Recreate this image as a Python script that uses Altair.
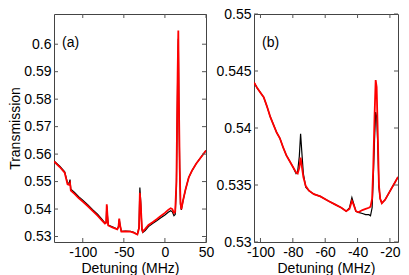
import altair as alt
import pandas as pd

# ---------------- Panel (a) ----------------
a_x = [-135, -128, -122, -118.5, -116.5, -115.5, -114.5, -110, -105, -100, -94, -88, -82, -77,
       -73, -71.5, -70.8, -70, -69, -64, -58, -56.5, -55.6, -54.5, -53, -48, -42, -38, -35,
       -33.5, -31.5, -30.5, -29.5, -28, -27, -24, -20, -15, -10, -5, 0, 4, 7, 9, 11, 12.5,
       14, 15.5, 16.3, 17, 18, 19, 20, 22, 25, 29, 33, 38, 43, 50]
a_red = [0.5573, 0.5553, 0.5532, 0.5490, 0.5488, 0.5494, 0.5467, 0.5455, 0.5440, 0.5427,
         0.5411, 0.5393, 0.5376, 0.5360, 0.5347, 0.5350, 0.5417, 0.5380, 0.5340, 0.5333,
         0.5326, 0.5335, 0.5365, 0.5340, 0.5318, 0.5319, 0.5318, 0.5314, 0.5309, 0.5307,
         0.5330, 0.5459, 0.5420, 0.5330, 0.5318, 0.5328, 0.5342, 0.5352, 0.5363, 0.5375,
         0.5386, 0.5397, 0.5403, 0.5400, 0.5386, 0.5390, 0.5500, 0.5900, 0.6050, 0.5800,
         0.5550, 0.5420, 0.5399, 0.5430, 0.5470, 0.5515, 0.5540, 0.5565, 0.5585, 0.5613]
a_black = [0.5575, 0.5556, 0.5536, 0.5494, 0.5495, 0.5507, 0.5472, 0.5460, 0.5445, 0.5432,
           0.5416, 0.5398, 0.5381, 0.5364, 0.5350, 0.5352, 0.5412, 0.5378, 0.5342, 0.5335,
           0.5327, 0.5336, 0.5362, 0.5340, 0.5319, 0.5320, 0.5319, 0.5315, 0.5310, 0.5308,
           0.5335, 0.5478, 0.5430, 0.5325, 0.5315, 0.5322, 0.5336, 0.5347, 0.5357, 0.5368,
           0.5378, 0.5388, 0.5394, 0.5390, 0.5376, 0.5380, 0.5480, 0.5880, 0.6020, 0.5780,
           0.5540, 0.5415, 0.5397, 0.5430, 0.5470, 0.5515, 0.5540, 0.5565, 0.5585, 0.5613]
a_xticks = [-100, -50, 0, 50]
a_yticks = [0.53, 0.54, 0.55, 0.56, 0.57, 0.58, 0.59, 0.6]
a_xdomain = [-135, 50]
a_ydomain = [0.528, 0.611]

# ---------------- Panel (b) ----------------
b_x = [-104, -102, -100, -98, -96, -94, -92, -90, -88, -86, -84, -82, -80, -78, -77, -76,
       -75.2, -74.5, -73.5, -72, -70, -67, -63, -58, -54, -50, -47, -45, -43.5, -42.5, -41,
       -39.5, -37, -35, -33, -32, -31, -30.3, -29.5, -28.8, -28.2, -27.5, -26.8, -26, -25,
       -23, -21, -19, -17, -15]
b_red = [0.5440, 0.5435, 0.5431, 0.5427, 0.5419, 0.5410, 0.5403, 0.5396, 0.5391, 0.5383,
         0.5376, 0.5371, 0.5366, 0.5361, 0.5360, 0.5365, 0.5374, 0.5367, 0.5357, 0.5349,
         0.5345, 0.5342, 0.5340, 0.5336, 0.5333, 0.5330, 0.5327, 0.5329, 0.5336, 0.5333,
         0.5327, 0.5326, 0.5328, 0.5329, 0.5330, 0.5331, 0.5338, 0.5365, 0.5410, 0.5442,
         0.5436, 0.5395, 0.5350, 0.5338, 0.5334, 0.5337, 0.5342, 0.5347, 0.5352, 0.5357]
b_black = [0.5440, 0.5435, 0.5431, 0.5427, 0.5419, 0.5410, 0.5403, 0.5396, 0.5391, 0.5383,
           0.5376, 0.5371, 0.5366, 0.5360, 0.5362, 0.5375, 0.5395, 0.5380, 0.5360, 0.5348,
           0.5345, 0.5342, 0.5340, 0.5336, 0.5333, 0.5330, 0.5327, 0.5330, 0.5339, 0.5334,
           0.5327, 0.5326, 0.5325, 0.5324, 0.5324, 0.5323, 0.5330, 0.5355, 0.5390, 0.5414,
           0.5410, 0.5385, 0.5348, 0.5338, 0.5334, 0.5337, 0.5342, 0.5347, 0.5352, 0.5357]
b_xticks = [-100, -80, -60, -40, -20]
b_yticks = [0.53, 0.535, 0.54, 0.545, 0.55]
b_xdomain = [-104, -15]
b_ydomain = [0.53, 0.55]

H = 228
FONT = "Liberation Sans"
TICK = 4
XLABEL = "datum.value < 0 ? '-' + abs(datum.value) : '' + datum.value"


def panel(xs, red, black, xdom, ydom, xticks, yticks, yfmt, label, ytitle, W):
    df = pd.DataFrame({"x": xs, "red": red, "black": black})
    xs_ = alt.Scale(domain=xdom, nice=False, zero=False)
    ys_ = alt.Scale(domain=ydom, nice=False, zero=False)
    xaxis = alt.Axis(values=xticks, labelExpr=XLABEL, title="Detuning (MHz)", ticks=False,
                     domain=False, grid=False, labelPadding=3, titlePadding=2,
                     labelOverlap=False, labelFlush=False)
    if ytitle:
        yaxis = alt.Axis(values=yticks, format=yfmt, title=ytitle, ticks=False,
                         domain=False, grid=False, labelPadding=3, titlePadding=1,
                         labelOverlap=False, labelFlush=False)
    else:
        yaxis = alt.Axis(values=yticks, format=yfmt, title=None, ticks=False,
                         domain=False, grid=False, labelPadding=3,
                         labelOverlap=False, labelFlush=False)

    black_line = alt.Chart(df).mark_line(color="black", strokeWidth=1.2, clip=True).encode(
        x=alt.X("x:Q", scale=xs_, axis=xaxis),
        y=alt.Y("black:Q", scale=ys_, axis=yaxis),
    )
    red_line = alt.Chart(df).mark_line(color="#ff0000", strokeWidth=1.8, clip=True).encode(
        x=alt.X("x:Q", scale=xs_, axis=xaxis),
        y=alt.Y("red:Q", scale=ys_, axis=yaxis),
    )
    xt = pd.DataFrame({"v": xticks})
    yt = pd.DataFrame({"v": yticks})
    tick_style = dict(color="#555", strokeWidth=1)
    bottom = alt.Chart(xt).mark_rule(**tick_style).encode(
        x=alt.X("v:Q", scale=xs_, axis=xaxis), y=alt.value(H), y2=alt.value(H - TICK))
    top = alt.Chart(xt).mark_rule(**tick_style).encode(
        x=alt.X("v:Q", scale=xs_, axis=xaxis), y=alt.value(0), y2=alt.value(TICK))
    left = alt.Chart(yt).mark_rule(**tick_style).encode(
        y=alt.Y("v:Q", scale=ys_, axis=yaxis), x=alt.value(0), x2=alt.value(TICK))
    right = alt.Chart(yt).mark_rule(**tick_style).encode(
        y=alt.Y("v:Q", scale=ys_, axis=yaxis), x=alt.value(W), x2=alt.value(W - TICK))
    txt = alt.Chart(pd.DataFrame({"t": [label]})).mark_text(
        align="left", baseline="middle", font=FONT, fontSize=14, color="black"
    ).encode(text="t:N", x=alt.value(8), y=alt.value(29))
    return alt.layer(black_line, red_line, bottom, top, left, right, txt).properties(
        width=W, height=H)


pa = panel(a_x, a_red, a_black, a_xdomain, a_ydomain, a_xticks, a_yticks, ".2~f", "(a)",
           "Transmission", 152)
pb = panel(b_x, b_red, b_black, b_xdomain, b_ydomain, b_xticks, b_yticks, ".3~f", "(b)",
           None, 144)

chart = alt.hconcat(pa, pb, spacing=0).properties(
    padding={"left": 0, "top": -2, "right": 0, "bottom": 0}
).configure_view(stroke="#444", strokeWidth=1).configure_axis(
    labelFont=FONT, titleFont=FONT, labelFontSize=14, titleFontSize=14,
    labelColor="black", titleColor="black", titleFontWeight="normal",
    labelOverlap=False
)

chart.save("out.html", embed_options={"renderer": "svg", "actions": False})
